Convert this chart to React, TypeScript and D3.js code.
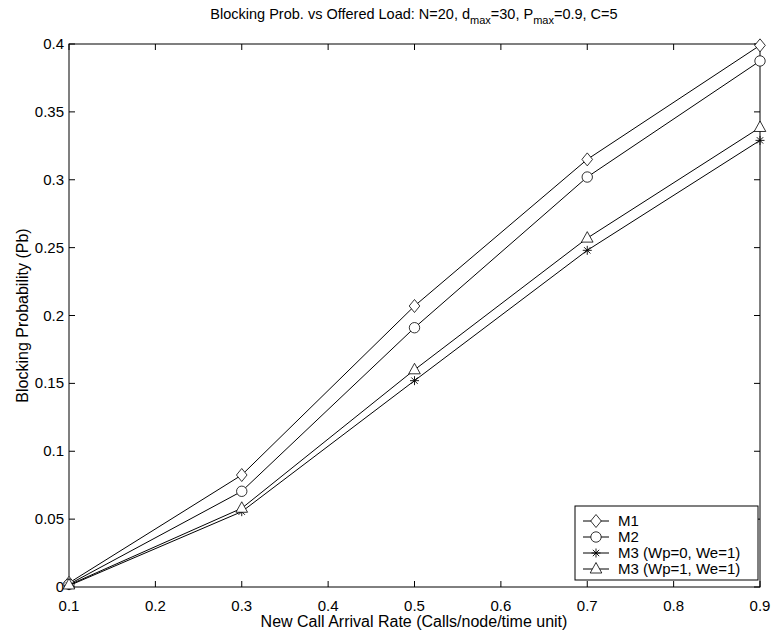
import React from "react";
import * as d3 from "d3";

// Offered load values (new call arrival rate)
const arrivalRates = [0.1, 0.3, 0.5, 0.7, 0.9];

// Blocking probability per method
const m1Values = [0.003, 0.0825, 0.207, 0.315, 0.399];
const m2Values = [0.002, 0.0705, 0.191, 0.302, 0.3875];
const m3aValues = [0.001, 0.0555, 0.152, 0.248, 0.329];
const m3bValues = [0.0015, 0.058, 0.160, 0.257, 0.3385];

const seriesNames = ["M1", "M2", "M3 (Wp=0, We=1)", "M3 (Wp=1, We=1)"];
const markerKinds = ["diamond", "circle", "star", "triangle"];

const xTicks = [0.1, 0.2, 0.3, 0.4, 0.5, 0.6, 0.7, 0.8, 0.9];
const yTicks = [0, 0.05, 0.1, 0.15, 0.2, 0.25, 0.3, 0.35, 0.4];

const W = 773;
const H = 636;
const left = 69;
const right = 760;
const top = 44;
const bottom = 587;
const font = "'Liberation Sans', Arial, Helvetica, sans-serif";

function Marker({ kind, x, y }: { kind: string; x: number; y: number }) {
  if (kind === "diamond") {
    return (
      <path
        d={`M${x},${y - 6.5}L${x + 5.3},${y}L${x},${y + 6.5}L${x - 5.3},${y}Z`}
        fill="white"
        stroke="black"
        strokeWidth={0.8}
      />
    );
  }
  if (kind === "circle") {
    return <circle cx={x} cy={y} r={5.2} fill="white" stroke="black" strokeWidth={0.8} />;
  }
  if (kind === "triangle") {
    return (
      <path
        d={`M${x},${y - 6.5}L${x + 5.8},${y + 4}L${x - 5.8},${y + 4}Z`}
        fill="white"
        stroke="black"
        strokeWidth={0.8}
      />
    );
  }
  // star: asterisk of lines
  const r = 4.5;
  const lines = [0, 45, 90, 135].map((a) => {
    const rad = (a * Math.PI) / 180;
    return `M${x - r * Math.cos(rad)},${y - r * Math.sin(rad)}L${x + r * Math.cos(rad)},${y + r * Math.sin(rad)}`;
  });
  return <path d={lines.join("")} stroke="black" strokeWidth={0.9} fill="none" />;
}

export default function App() {
  const x = d3.scaleLinear().domain([0.1, 0.9]).range([left, right]);
  const y = d3.scaleLinear().domain([0, 0.4]).range([bottom, top]);
  const allSeries = [m1Values, m2Values, m3aValues, m3bValues];
  const line = d3
    .line<number>()
    .x((_, i) => x(arrivalRates[i]))
    .y((d) => y(d));

  const tick = 6;
  const legendX = 575;
  const legendY = 506;
  const legendW = 183;
  const legendH = 74;

  return (
    <svg width={W} height={H} style={{ position: "absolute", left: 0, top: 0, background: "white" }}>
      <rect x={0} y={0} width={W} height={H} fill="white" />
      {/* title */}
      <text x={414} y={19} textAnchor="middle" fontFamily={font} fontSize={14.5} fill="black">
        <tspan>Blocking Prob. vs Offered Load: N=20, d</tspan>
        <tspan fontSize={11} dy={5}>max</tspan>
        <tspan dy={-5}>=30, P</tspan>
        <tspan fontSize={11} dy={5}>max</tspan>
        <tspan dy={-5}>=0.9, C=5</tspan>
      </text>

      {/* axes box */}
      <rect x={left} y={top} width={right - left} height={bottom - top} fill="none" stroke="black" strokeWidth={1} />

      {/* x ticks */}
      {xTicks.map((t) => (
        <g key={`xt${t}`}>
          <line x1={x(t)} x2={x(t)} y1={bottom} y2={bottom - tick} stroke="black" />
          <line x1={x(t)} x2={x(t)} y1={top} y2={top + tick} stroke="black" />
          <text x={x(t)} y={611} textAnchor="middle" fontFamily={font} fontSize={15}>
            {t.toFixed(1)}
          </text>
        </g>
      ))}

      {/* y ticks */}
      {yTicks.map((t) => (
        <g key={`yt${t}`}>
          <line x1={left} x2={left + tick} y1={y(t)} y2={y(t)} stroke="black" />
          <line x1={right} x2={right - tick} y1={y(t)} y2={y(t)} stroke="black" />
          <text x={64} y={y(t) + 5} textAnchor="end" fontFamily={font} fontSize={15}>
            {t === 0 ? "0" : String(t)}
          </text>
        </g>
      ))}

      {/* axis labels */}
      <text x={414} y={627} textAnchor="middle" fontFamily={font} fontSize={16}>
        New Call Arrival Rate (Calls/node/time unit)
      </text>
      <text
        transform={`translate(28,${(top + bottom) / 2}) rotate(-90)`}
        textAnchor="middle"
        fontFamily={font}
        fontSize={16}
      >
        Blocking Probability (Pb)
      </text>

      {/* series */}
      {allSeries.map((vals, si) => (
        <g key={`s${si}`}>
          <path d={line(vals) ?? ""} fill="none" stroke="black" strokeWidth={1} />
          {vals.map((v, i) => (
            <Marker key={i} kind={markerKinds[si]} x={x(arrivalRates[i])} y={y(v)} />
          ))}
        </g>
      ))}

      {/* legend */}
      <rect x={legendX} y={legendY} width={legendW} height={legendH} fill="white" stroke="black" strokeWidth={1} />
      {seriesNames.map((name, i) => {
        const ly = legendY + 15 + i * 16;
        return (
          <g key={name}>
            <line x1={583} x2={609} y1={ly} y2={ly} stroke="black" />
            <Marker kind={markerKinds[i]} x={596} y={ly} />
            <text x={618} y={ly + 5} fontFamily={font} fontSize={15}>
              {name}
            </text>
          </g>
        );
      })}
    </svg>
  );
}
